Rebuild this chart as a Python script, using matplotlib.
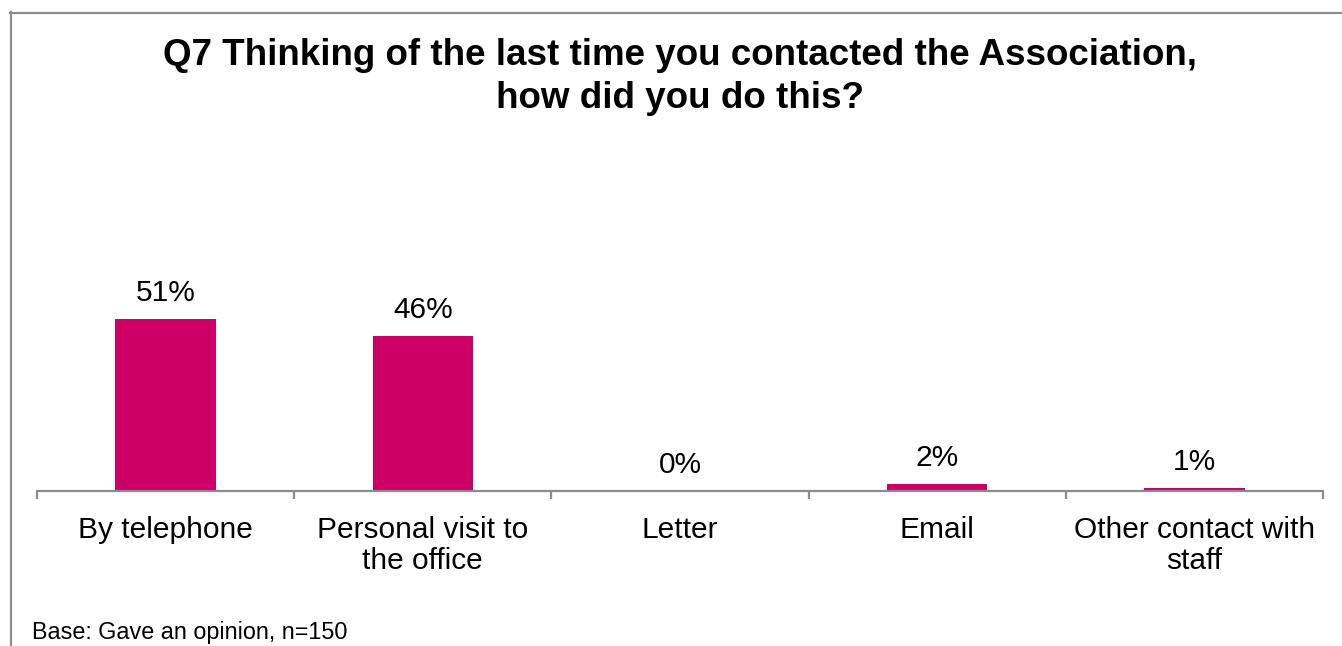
import matplotlib
matplotlib.use("Agg")
import matplotlib.pyplot as plt
from matplotlib.lines import Line2D

plt.rcParams['font.family'] = ['Liberation Sans', 'DejaVu Sans']

# Survey data
categories = ["By telephone", "Personal visit to\nthe office", "Letter", "Email",
              "Other contact with\nstaff"]
percentages = [51, 46, 0, 2, 1]
value_labels = ["51%", "46%", "0%", "2%", "1%"]

title_lines = ["Q7 Thinking of the last time you contacted the Association,",
               "how did you do this?"]
base_note = "Base: Gave an opinion, n=150"

BAR_COLOR = "#CC0066"
AXIS_GRAY = "#8C8C8C"

W, H = 1342, 646
DPI = 100
fig = plt.figure(figsize=(W / DPI, H / DPI), dpi=DPI)

def fx(px):
    return px / W

def fy(py):
    return 1 - py / H

# Plot area
ax_left, ax_right, ax_bottom, ax_top = 37, 1323, 491, 220
ax = fig.add_axes([fx(ax_left), fy(ax_bottom), fx(ax_right - ax_left),
                   (ax_bottom - ax_top) / H])

x = list(range(len(categories)))
ax.bar(x, percentages, width=0.39, color=BAR_COLOR, zorder=2)
ax.set_xlim(-0.5, len(categories) - 0.5)
ax.set_ylim(0, 80.5)

for xi, v, lab in zip(x, percentages, value_labels):
    ax.annotate(lab, (xi, v), xytext=(0, 13), textcoords="offset points",
                ha="center", va="baseline", fontsize=21.5, color="black")

for side in ("top", "right", "left"):
    ax.spines[side].set_visible(False)
ax.spines["bottom"].set_color(AXIS_GRAY)
ax.spines["bottom"].set_linewidth(1.6)
ax.set_yticks([])

# Category boundary ticks
ax.set_xticks([i - 0.5 for i in range(len(categories) + 1)])
ax.set_xticklabels([])
ax.tick_params(axis="x", which="major", length=6, width=1.6, color=AXIS_GRAY,
               direction="out")
# Category names centred under each bar
ax.set_xticks(x, minor=True)
ax.set_xticklabels(categories, minor=True, fontsize=21.5, linespacing=1.12)
ax.tick_params(axis="x", which="minor", length=0, pad=18)

# Title
fig.text(fx(680), fy(65), title_lines[0], ha="center", va="baseline",
         fontsize=26.5, fontweight="bold")
fig.text(fx(680), fy(108), title_lines[1], ha="center", va="baseline",
         fontsize=26.5, fontweight="bold")

# Footnote
fig.text(fx(32), fy(639), base_note, ha="left", va="baseline", fontsize=16.8)

# Frame around the chart
fig.add_artist(Line2D([fx(10), fx(1342)], [fy(12.5), fy(12.5)],
                      transform=fig.transFigure, color=AXIS_GRAY, lw=1.6))
fig.add_artist(Line2D([fx(10.5), fx(10.5)], [fy(12), fy(646)],
                      transform=fig.transFigure, color=AXIS_GRAY, lw=1.6))

fig.savefig("out.png", dpi=DPI)
